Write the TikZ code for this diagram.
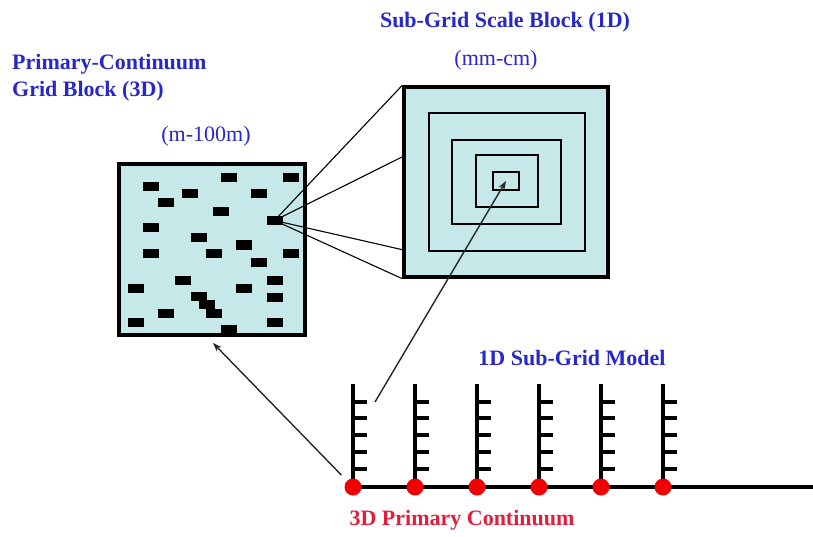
\documentclass[tikz,border=0pt]{standalone}
\usepackage{fontspec}
\setmainfont{Liberation Serif}
\usetikzlibrary{arrows.meta, positioning, calc}
\definecolor{cBlock}{RGB}{198, 232, 232}
\definecolor{tBlue}{RGB}{40, 40, 200}
\definecolor{tRed}{RGB}{225, 30, 60}
\definecolor{cDot}{RGB}{240, 0, 0}

\begin{document}
\begin{tikzpicture}[
    x=1pt, y=-1pt,
    >=Stealth,
    title/.style={text=#1, font=\fontsize{22}{27}\selectfont\bfseries, align=left, inner sep=0pt},
    scale label/.style={text=tBlue, font=\fontsize{22}{27}\selectfont, inner sep=0pt},
    box/.style={draw=black, line width=3.4pt, fill=cBlock, inner sep=0pt},
    ring/.style={draw=black, line width=1.8pt, inner sep=0pt},
    inclusion/.style={fill=black, inner sep=0pt, minimum width=16pt, minimum height=9pt},
    node dot/.style={circle, fill=cDot, inner sep=0pt, minimum size=17pt},
    arrow/.style={-{Stealth[length=9pt, width=6.5pt]}, line width=1.4pt, color=black!85}
]

\useasboundingbox (0,0) rectangle (813,537);

% Labels
\node[title=tBlue] (subtitle) at (505,22) {Sub-Grid Scale Block (1D)};
\node[scale label] (subscale) at (496,60) {(mm-cm)};
\node[title=tBlue, anchor=west] (gridtitle) at (12,78) {Primary-Continuum\\Grid Block (3D)};
\node[scale label] (gridscale) at (206,136) {(m-100m)};
\node[title=tBlue] (modeltitle) at (572,358) {1D Sub-Grid Model};
\node[title=tRed] (conttitle) at (462,520) {3D Primary Continuum};

% Primary-continuum grid block
\node[box, minimum width=186pt, minimum height=171pt] (gridblk) at (212,249.5) {};
\foreach \cx/\cy [count=\k] in {228.5/178, 291/178, 151/186.5, 190/194, 259/194,
    166/202.5, 221/212, 274.5/220.5, 151/228, 198.5/237.5, 243.5/245,
    151/253.5, 213.5/253.5, 291/253.5, 259/262.5, 182.5/280, 274.5/280,
    136/288, 243.5/288, 198.5/296.5, 274.5/297, 206.5/304.5, 166/313.5,
    214/313.5, 136/322.5, 274.5/322.5, 228.5/329.5}
    \node[inclusion] (inc\k) at (\cx,\cy) {};

% Sub-grid scale block
\node[box, minimum width=204pt, minimum height=190pt] (subblk) at (506,182) {};
\node[ring, minimum width=156pt, minimum height=138pt] (ring1) at (507,182) {};
\node[ring, minimum width=109pt, minimum height=84pt] (ring2) at (506.5,182) {};
\node[ring, minimum width=62pt, minimum height=52pt] (ring3) at (507,181) {};
\node[ring, minimum width=26pt, minimum height=18pt] (core) at (506,181) {};

% zoom lines
\draw[line width=1.1pt] (inc8.center) -- (subblk.north west);
\draw[line width=1.1pt] (inc8.center) -- ($(subblk.north west)!0.37!(subblk.south west)$);
\draw[line width=1.1pt] (inc8.center) -- ($(subblk.north west)!0.85!(subblk.south west)$);
\draw[line width=1.1pt] (inc8.center) -- (subblk.south west);

% 1D sub-grid model
\coordinate (lineend) at (813,487);
\foreach \i in {1,...,6} {
    \coordinate (p\i) at ({353+62*(\i-1)},487);
    \coordinate (top\i) at ({353+62*(\i-1)},384);
    \draw[line width=4pt] (p\i) -- (top\i);
    \foreach \ty in {402,418,435,452,469}
        \draw[line width=3.6pt] ({351+62*(\i-1)},\ty) -- ++(16,0);
}
\draw[line width=3.4pt] (p1) -- (lineend);
\foreach \i in {1,...,6}
    \node[node dot] (d\i) at (p\i) {};

% arrows
\coordinate (stemfoot) at (375,402);
\coordinate (gridtip) at (213,343);
\draw[arrow] (stemfoot) -- (core.center);
\draw[arrow, shorten <=8pt] (d1) -- (gridtip);

\end{tikzpicture}
\end{document}
